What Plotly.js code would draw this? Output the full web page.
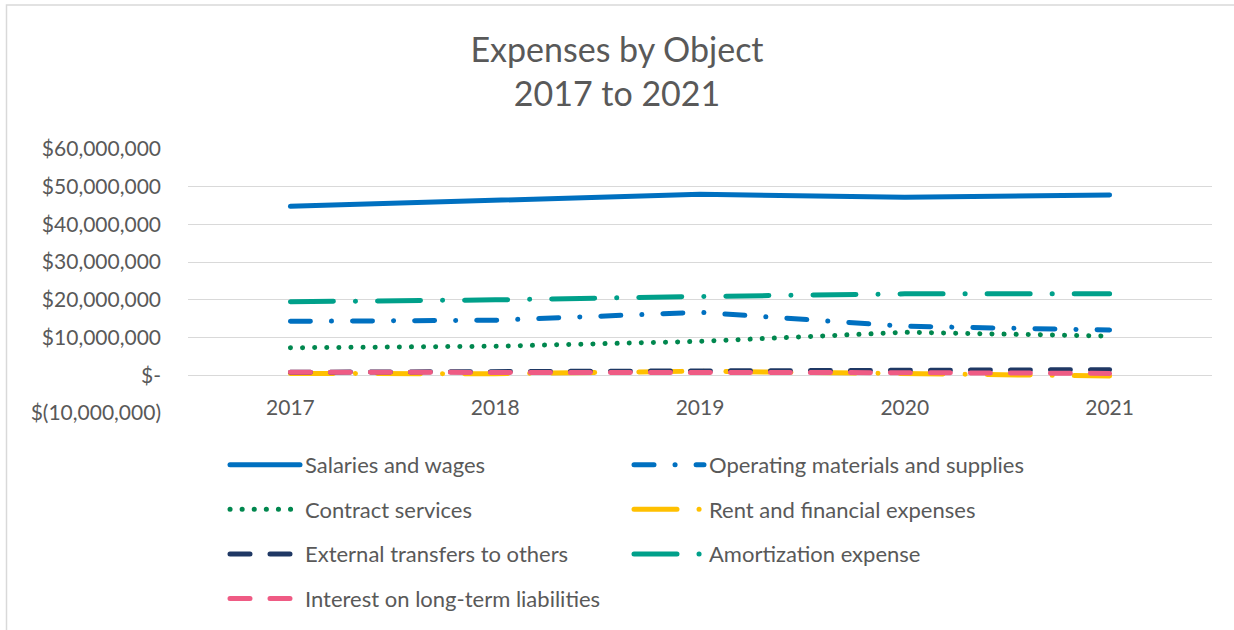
<!DOCTYPE html>
<html>
<head>
<meta charset="utf-8">
<script src="https://cdn.plot.ly/plotly-3.0.1.min.js"></script>
<style>
  html, body { margin: 0; padding: 0; background: #fff; }
  #chart { width: 1234px; height: 630px; }
  /* round caps like the office chart */
  path.js-line { stroke-linecap: round; }
</style>
</head>
<body>
<div id="chart"></div>
<script>
// categories
const years = ["2017", "2018", "2019", "2020", "2021"];

// series values (dollars)
const salaries = [44800000, 46400000, 48000000, 47200000, 47800000];
const operating = [14300000, 14600000, 16700000, 13000000, 12000000];
const contract = [7300000, 7700000, 9000000, 11400000, 10400000];
const rent = [500000, 400000, 1100000, 400000, -200000];
const external = [800000, 900000, 1100000, 1300000, 1500000];
const amortization = [19500000, 20000000, 20900000, 21600000, 21600000];
const interest = [800000, 800000, 900000, 700000, 500000];

// y tick labels (accounting format)
const yTickVals = [-10000000, 0, 10000000, 20000000, 30000000, 40000000, 50000000, 60000000];
const yTickText = ["$(10,000,000)", "$-", "$10,000,000", "$20,000,000", "$30,000,000",
	"$40,000,000", "$50,000,000", "$60,000,000"];

const fontFam = "Lato, 'Noto Sans', sans-serif";
const grey = "#595959";

// helper for one line trace
const mk = (name, y, color, dash, legend) => ({
	x: years,
	y: y,
	name: name,
	type: "scatter",
	mode: "lines",
	line: { color: color, width: 5, dash: dash },
	legend: legend,
	legendgroup: name,
	hoverinfo: "x+y+name",
});

// excel draw order
const data = [
	mk("Salaries and wages", salaries, "#0070C0", "solid", "legend"),
	mk("Operating materials and supplies", operating, "#0070C0", "20px,21px,0.1px,21px", "legend2"),
	mk("Contract services", contract, "#00874E", "0.1px,12px", "legend"),
	mk("Rent and financial expenses", rent, "#FFC000", "43px,22px,0.1px,22px", "legend2"),
	mk("External transfers to others", external, "#1F3864", "20px,20px", "legend"),
	mk("Amortization expense", amortization, "#00A08A", "43px,22px,0.1px,22px", "legend2"),
	mk("Interest on long-term liabilities", interest, "#EF5B84", "20px,20px", "legend"),
];

// two stacked legends make the two columns
const legendBase = {
	orientation: "v",
	traceorder: "grouped",
	tracegroupgap: 13,
	itemwidth: 70,
	font: { family: fontFam, size: 22, color: grey },
	bgcolor: "rgba(0,0,0,0)",
	xanchor: "left",
	yanchor: "top",
	y: -0.117,
	itemclick: false,
};

const layout = {
	width: 1234,
	height: 630,
	margin: { l: 188, r: 22, t: 149, b: 217, autoexpand: false },
	paper_bgcolor: "#fff",
	plot_bgcolor: "#fff",
	font: { family: fontFam, color: grey },
	title: {
		text: "Expenses by Object<br>2017 to 2021",
		font: { family: fontFam, size: 34, color: grey },
		x: 0.5,
		xanchor: "center",
		yref: "container",
		y: 1 - 62 / 630,
		yanchor: "middle",
	},
	xaxis: {
		type: "category",
		range: [-0.5, 4.5],
		anchor: "free",
		position: 1 / 7,
		showgrid: false,
		zeroline: false,
		showline: false,
		ticks: "",
		automargin: false,
		ticklabelstandoff: 18,
		tickfont: { family: fontFam, size: 21, color: grey },
	},
	yaxis: {
		range: [-10000000, 60000000],
		tickvals: yTickVals,
		ticktext: yTickText,
		showgrid: true,
		gridcolor: "#D9D9D9",
		gridwidth: 1.3,
		zeroline: false,
		showline: false,
		ticks: "",
		automargin: false,
		ticklabelstandoff: 26,
		tickfont: { family: fontFam, size: 21, color: grey },
	},
	showlegend: true,
	legend: Object.assign({}, legendBase, { x: (225 - 188) / 1024 }),
	legend2: Object.assign({}, legendBase, { x: (629 - 188) / 1024 }),
	shapes: [
		{
			type: "rect",
			xref: "paper",
			yref: "paper",
			x0: (6.5 - 188) / 1024,
			x1: (1260 - 188) / 1024,
			y0: -1.0,
			y1: (630 - 5 - 217) / 264,
			line: { color: "#D9D9D9", width: 1.5 },
			fillcolor: "rgba(0,0,0,0)",
			layer: "below",
		},
	],
};

const config = { responsive: false, displayModeBar: false };

Plotly.newPlot("chart", data, layout, config);
</script>
</body>
</html>
